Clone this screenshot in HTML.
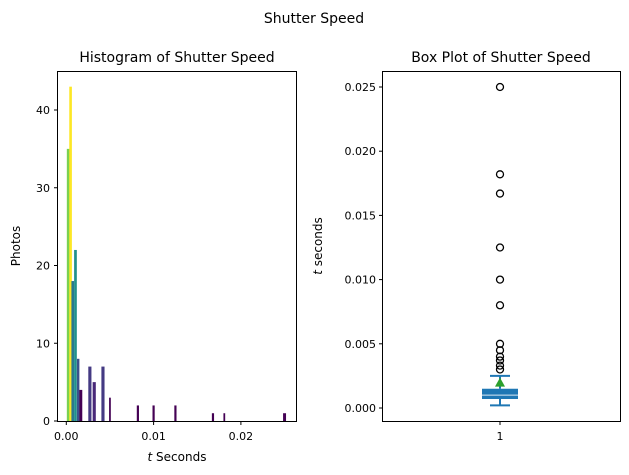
<!DOCTYPE html>
<html><head><meta charset="utf-8"><style>
body{margin:0;background:#fff}
svg{display:block;font-family:"DejaVu Sans","Liberation Sans",sans-serif}
</style></head><body>
<svg id="c" width="629" height="475">
<text x="314" y="23" font-size="14" text-anchor="middle">Shutter Speed</text>
<text x="177" y="62" font-size="14" text-anchor="middle">Histogram of Shutter Speed</text>
<text x="501" y="62" font-size="14" text-anchor="middle">Box Plot of Shutter Speed</text>
<text x="177" y="461" font-size="12" text-anchor="middle"><tspan font-style="italic">t</tspan> Seconds</text>
<text transform="translate(20,246) rotate(-90)" font-size="12" text-anchor="middle">Photos</text>
<text transform="translate(322,246) rotate(-90)" font-size="12" text-anchor="middle"><tspan font-style="italic">t</tspan> seconds</text>
<g id="h"></g>
<g id="b"></g>
</svg>
<script>
const histX=[0.00021,0.00049,0.00074,0.00105,0.00136,0.00166,0.0027,0.0032,0.0042,0.005,0.0082,0.01,0.0125,0.0168,0.0181,0.025];
const histW=[0.0003,0.0003,0.00031,0.00031,0.00028,0.00034,0.00036,0.00036,0.00036,0.0002,0.00025,0.00025,0.00025,0.00025,0.0002,0.00034];
const histCounts=[35,43,18,22,8,4,7,5,7,3,2,2,2,1,1,1];
const histColors=['#7ad151','#fde725','#2a788e','#21918c','#3b528b','#440154','#443a83','#482878','#443a83','#440154','#440154','#440154','#440154','#440154','#440154','#440154'];
const histXTicks=[0,0.01,0.02];
const histXLabels=['0.00','0.01','0.02'];
const histYTicks=[0,10,20,30,40];
const boxStats={whiskerLow:0.0002,q1:0.0007,median:0.001,q3:0.0015,whiskerHigh:0.0025,mean:0.0019};
const outliers=[0.025,0.0182,0.0167,0.0125,0.01,0.008,0.005,0.0045,0.004,0.0037,0.0033,0.003];
const boxYTicks=[0,0.005,0.01,0.015,0.02,0.025];
const boxYLabels=['0.000','0.005','0.010','0.015','0.020','0.025'];
const NS='http://www.w3.org/2000/svg';
function mk(p,t,a){const e=document.createElementNS(NS,t);for(const k in a)e.setAttribute(k,a[k]);p.appendChild(e);return e;}
const H=document.getElementById('h');
const hx=v=>66.3+v*8730, hy=v=>421-v*7.775;
histX.forEach((v,i)=>{const r=mk(H,'rect',{x:hx(v-histW[i]/2),y:hy(histCounts[i]),width:histW[i]*8730,height:histCounts[i]*7.775,fill:histColors[i]});

});
mk(H,'rect',{x:57.5,y:71.5,width:239,height:350,fill:'none',stroke:'#000','stroke-width':1});
histXTicks.forEach((v,i)=>{mk(H,'line',{x1:hx(v),x2:hx(v),y1:421.5,y2:425,stroke:'#000'});
const t=mk(H,'text',{x:hx(v),y:440,'font-size':11,'text-anchor':'middle'});t.textContent=histXLabels[i];

});
histYTicks.forEach(v=>{mk(H,'line',{x1:54,x2:57.5,y1:hy(v),y2:hy(v),stroke:'#000'});
const t=mk(H,'text',{x:50,y:hy(v)+4,'font-size':11,'text-anchor':'end'});t.textContent=v;

});
const B=document.getElementById('b');
const by=v=>408-v*12840, cx=500;
mk(B,'rect',{x:382.5,y:71.5,width:238,height:350,fill:'none',stroke:'#000'});
boxYTicks.forEach((v,i)=>{mk(B,'line',{x1:379,x2:382.5,y1:by(v),y2:by(v),stroke:'#000'});
const t=mk(B,'text',{x:376,y:by(v)+4,'font-size':11,'text-anchor':'end'});t.textContent=boxYLabels[i];

});
mk(B,'line',{x1:cx,x2:cx,y1:421.5,y2:425,stroke:'#000'});
const xl=mk(B,'text',{x:cx,y:440,'font-size':11,'text-anchor':'middle'});xl.textContent='1';
const c='#1f77b4';
mk(B,'line',{x1:cx,x2:cx,y1:by(boxStats.whiskerLow),y2:by(boxStats.q1),stroke:c,'stroke-width':2});
mk(B,'line',{x1:cx,x2:cx,y1:by(boxStats.q3),y2:by(boxStats.whiskerHigh),stroke:c,'stroke-width':2});
mk(B,'line',{x1:cx-10,x2:cx+10,y1:by(boxStats.whiskerLow),y2:by(boxStats.whiskerLow),stroke:c,'stroke-width':2});
mk(B,'line',{x1:cx-10,x2:cx+10,y1:by(boxStats.whiskerHigh),y2:by(boxStats.whiskerHigh),stroke:c,'stroke-width':2});
const box=mk(B,'rect',{x:cx-18,y:by(boxStats.q3),width:36,height:by(boxStats.q1)-by(boxStats.q3),fill:c});


mk(B,'line',{x1:cx-18,x2:cx+18,y1:by(boxStats.median),y2:by(boxStats.median),stroke:'#dbe8f3','stroke-width':1});
const my=by(boxStats.mean);
const m=mk(B,'polygon',{points:`${cx},${my-6} ${cx+5},${my+3} ${cx-5},${my+3}`,fill:'#2ca02c'});


outliers.forEach(v=>{const o=mk(B,'circle',{cx:cx,cy:by(v),r:3.5,fill:'none',stroke:'#000','stroke-width':1.3});

});
</script>
</body></html>
